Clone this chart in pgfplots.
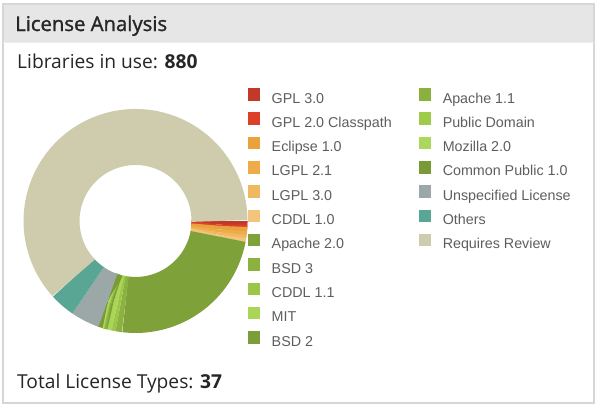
\documentclass[border=0pt]{standalone}
\usepackage{pgfplots}
\usepackage{pgfplotstable}
\pgfplotsset{compat=1.18}
\usepackage{fontspec}
\setmainfont{Liberation Sans}
\newfontfamily\osans{Open Sans}
\newfontfamily\osanssb[FakeBold=1.4]{Open Sans}

\definecolor{c0}{HTML}{C2392A}
\definecolor{c1}{HTML}{DC4128}
\definecolor{c2}{HTML}{E9A23C}
\definecolor{c3}{HTML}{EDAB4A}
\definecolor{c4}{HTML}{F0B860}
\definecolor{c5}{HTML}{F3C47C}
\definecolor{c6}{HTML}{7FA13A}
\definecolor{c7}{HTML}{8BB13F}
\definecolor{c8}{HTML}{9BC64A}
\definecolor{c9}{HTML}{AAD556}
\definecolor{c10}{HTML}{7C9E39}
\definecolor{c11}{HTML}{8AB03E}
\definecolor{c12}{HTML}{9ECB48}
\definecolor{c13}{HTML}{ABD85C}
\definecolor{c14}{HTML}{7A9A36}
\definecolor{c15}{HTML}{9CA7A8}
\definecolor{c16}{HTML}{58A693}
\definecolor{c17}{HTML}{CFCCAE}
\definecolor{framegray}{HTML}{D6D6D6}
\definecolor{headgray}{HTML}{E6E6E6}
\definecolor{legendgray}{HTML}{5E5E5E}
\definecolor{darktext}{HTML}{262626}

\pgfplotstableread[col sep=comma]{
name,count
GPL 3.0,6
GPL 2.0 Classpath,2
Eclipse 1.0,6
LGPL 2.1,5
LGPL 3.0,4
CDDL 1.0,3
Apache 2.0,211
BSD 3,8
CDDL 1.1,5
MIT,7
BSD 2,3
Apache 1.1,2
Public Domain,2
Mozilla 2.0,2
Common Public 1.0,1
Unspecified License,37
Others,32
Requires Review,544
}\licdata

\begin{document}
\begin{tikzpicture}[x=1bp,y=1bp]
\useasboundingbox (0,0) rectangle (600,408);
% panel
\fill[white] (3,5) rectangle (594,404);
\fill[headgray] (3,366) rectangle (594,404);
\draw[framegray, line width=1.6bp] (3,5) rectangle (594,404);
\draw[white!93!black, line width=0.8bp] (3,366) -- (594,366);

\begin{axis}[
  at={(121,167)}, anchor=origin,
  width=224bp, height=224bp, scale only axis,
  xmin=-1, xmax=1, ymin=-1, ymax=1,
  hide axis, clip=false,
  legend columns=2,
  legend cell align=left,
  legend image code/.code={%
    \path[draw=none, fill, line width=0pt] (0bp,-1.2bp) rectangle (12.5bp,11.3bp);
    \path[draw=none] (0bp,0bp) -- (24bp,0bp);
  },
  legend style={
    draw=none, fill=none, inner sep=0pt,
    at={(1.0,1.094)}, anchor=north west,
    font=\fontsize{14.3bp}{17bp}\selectfont,
    text=legendgray,
    row sep=6.4bp,
    nodes={inner sep=0pt, text height=10.2bp, text depth=3bp},
    /tikz/every even column/.append style={column sep=27bp},
  },
]
% slices
\xdef\cum{0}
\pgfplotsforeachungrouped \i in {0,...,17}{%
  \pgfplotstablegetelem{\i}{count}\of\licdata
  \pgfmathsetmacro\cnt{\pgfplotsretval}%
  \pgfmathsetmacro\angA{-\cum/880*360}%
  \pgfmathsetmacro\cumn{\cum+\cnt}%
  \pgfmathsetmacro\angB{-\cumn/880*360}%
  \edef\doplot{\noexpand\addplot[forget plot, color=c\i, line width=56bp, line cap=butt, line join=round, domain=\angA:\angB, samples=60] ({0.75*cos(x)},{0.75*sin(x)});}%
  \doplot
  \xdef\cum{\cumn}%
}
% legend: first column entries 0-10, second column entries 11-17
\pgfplotsforeachungrouped \j in {0,11,1,12,2,13,3,14,4,15,5,16,6,17,7,-1,8,-1,9,-1,10}{%
  \ifnum\j<0
    \addlegendimage{color=white}
    \addlegendentry{}
  \else
    \pgfplotstablegetelem{\j}{name}\of\licdata
    \let\nm\pgfplotsretval
    \edef\doleg{\noexpand\addlegendimage{color=c\j}\noexpand\addlegendentry{\nm}}%
    \doleg
  \fi
}
\end{axis}

\node[anchor=base west, inner sep=0pt, text=darktext, font=\osanssb\fontsize{20.3bp}{22bp}\selectfont] at (15,377) {License Analysis};
\node[anchor=base west, inner sep=0pt, text=darktext, font=\osans\fontsize{19.2bp}{21bp}\selectfont] at (17,340) {Libraries in use: \textbf{880}};
\node[anchor=base west, inner sep=0pt, text=darktext, font=\osans\fontsize{19.2bp}{21bp}\selectfont] at (17,20) {Total License Types: \textbf{37}};
\end{tikzpicture}
\end{document}
